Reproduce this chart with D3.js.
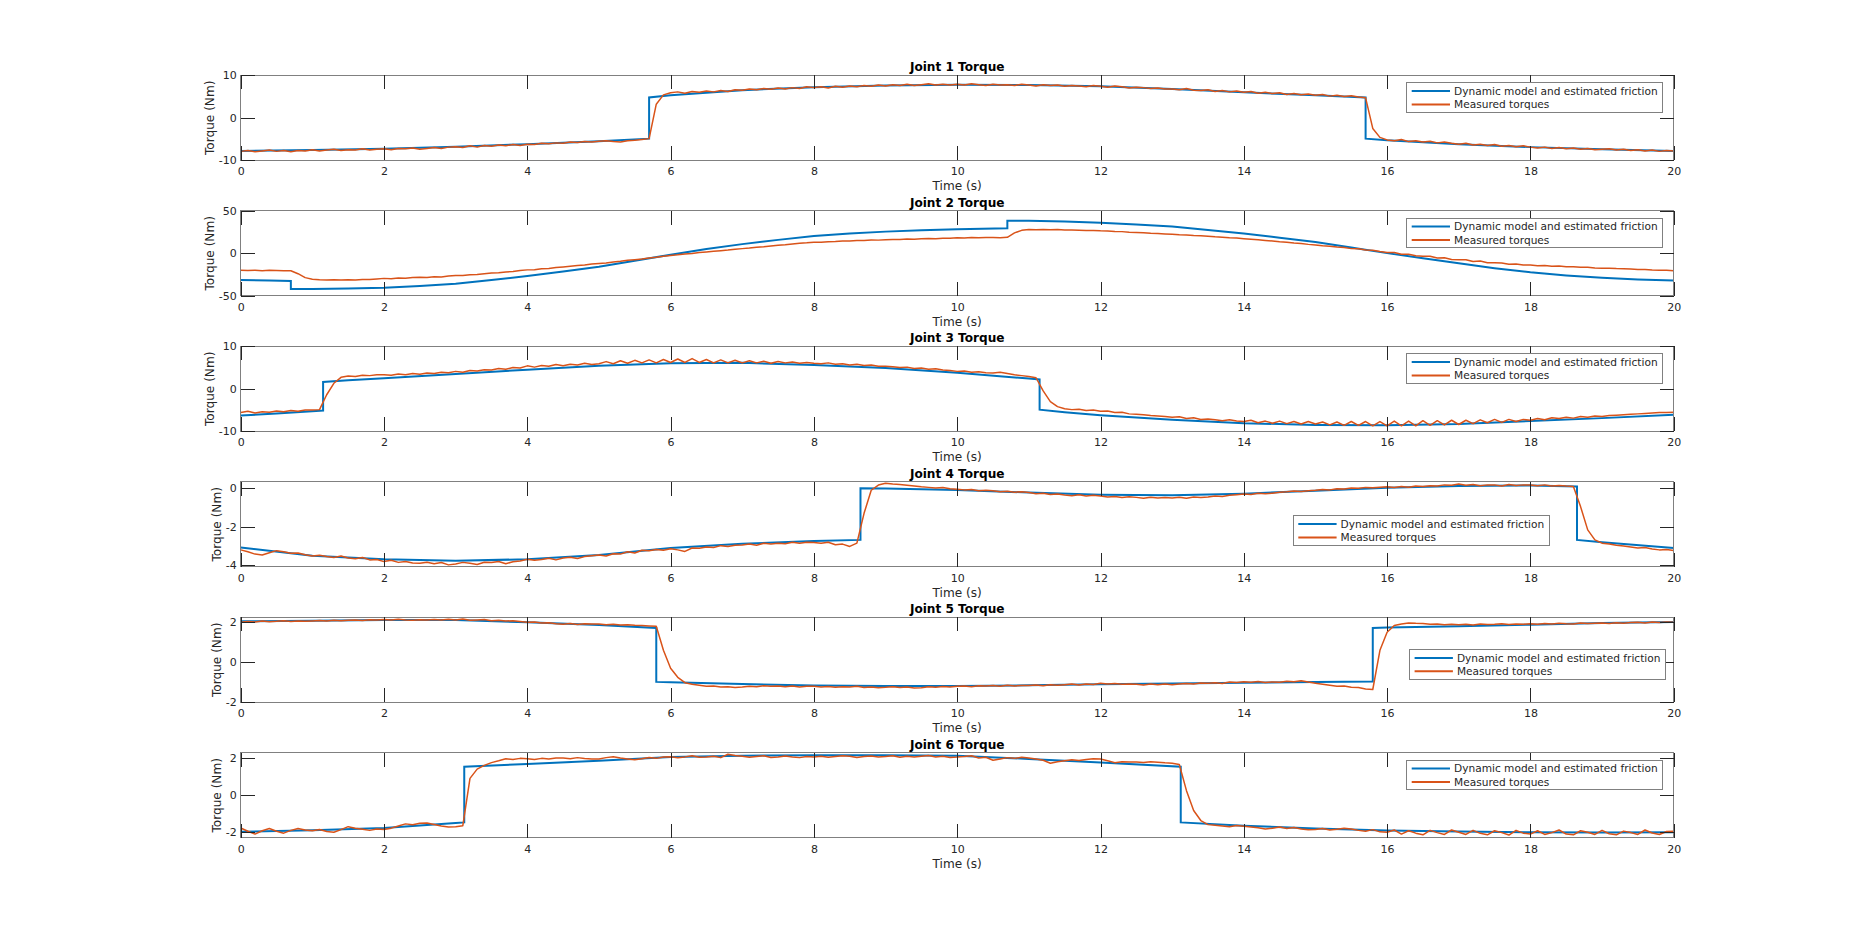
<!DOCTYPE html>
<html>
<head>
<meta charset="utf-8">
<script src="https://cdn.jsdelivr.net/npm/d3@7"></script>
<style>
  body { margin: 0; background: #fff; }
  svg text { font-family: "DejaVu Sans", sans-serif; fill: #262626; }
</style>
</head>
<body>
<div id="chart-area"></div>
<script>
// sampled measurement: one value every 0.1 s from 0 to 20 s
const timeStep = 0.1
const xTicks = [0, 2, 4, 6, 8, 10, 12, 14, 16, 18, 20]
const titles = ['Joint 1 Torque', 'Joint 2 Torque', 'Joint 3 Torque', 'Joint 4 Torque', 'Joint 5 Torque', 'Joint 6 Torque']
const yLimits = [[-10, 10], [-50, 50], [-10, 10], [-4.08, 0.34], [-2, 2.25], [-2.3, 2.28]]
const yTicks = [[-10, 0, 10], [-50, 0, 50], [-10, 0, 10], [-4, -2, 0], [-2, 0, 2], [-2, 0, 2]]
const legendLabels = ['Dynamic model and estimated friction', 'Measured torques']

// dynamic model + friction, [time, torque]
const model1 = [[0,-7.8],[1,-7.6],[2,-7.3],[3,-6.8],[4,-6.2],[5,-5.5],[5.7,-4.9],[5.7,4.8],[6,5.3],[7,6.5],[8,7.2],[9,7.6],[10,7.8],[11,7.7],[12,7.4],[13,6.8],[14,6.0],[15,5.3],[15.7,4.8],[15.7,-4.9],[16,-5.3],[17,-6.2],[18,-6.9],[19,-7.4],[20,-7.8]]
const model2 = [[0,-31.5],[0.4,-32],[0.7,-32.5],[0.7,-42],[1,-42],[1.5,-41.5],[2,-40.5],[2.5,-38.5],[3,-35.7],[3.5,-31.5],[4,-26.7],[4.5,-21.5],[5,-15.9],[5.5,-8.8],[6,-1.6],[6.5,5],[7,10.8],[7.5,15.8],[8,20.3],[8.5,23.3],[9,25.5],[9.5,27.2],[10,28.4],[10.7,29.5],[10.7,38.4],[11,38.4],[11.5,37.5],[12,36],[12.5,33.8],[13,31.4],[13.5,27.5],[14,23.3],[14.5,18.3],[15,13.3],[15.5,6.8],[16,0.2],[16.5,-5.8],[17,-11.8],[17.5,-17.5],[18,-22.3],[18.5,-26],[19,-28.8],[19.5,-30.8],[20,-31.9]]
const model3 = [[0,-6.3],[0.5,-5.8],[1.15,-5.1],[1.15,1.6],[1.5,2.0],[2,2.5],[3,3.5],[4,4.5],[5,5.4],[6,6.0],[7,6.1],[8,5.6],[9,4.9],[10,3.8],[11,2.4],[11.15,2.2],[11.15,-4.9],[11.5,-5.5],[12,-6.2],[13,-7.3],[14,-8.1],[15,-8.5],[16,-8.6],[17,-8.3],[18,-7.6],[19,-6.9],[20,-6.1]]
const model4 = [[0,-3.08],[1,-3.5],[2,-3.69],[3,-3.76],[4,-3.69],[5,-3.47],[6,-3.1],[7,-2.88],[8,-2.74],[8.65,-2.68],[8.65,0],[9,-0.01],[10,-0.09],[11,-0.22],[12,-0.33],[13,-0.36],[14,-0.28],[15,-0.12],[16,0.03],[17,0.12],[18,0.15],[18.65,0.1],[18.65,-2.68],[19,-2.8],[20,-3.1]]
const model5 = [[0,2.05],[1,2.08],[2,2.12],[3,2.12],[4,2.0],[5,1.87],[5.8,1.72],[5.8,-0.98],[6,-1.0],[7,-1.09],[8,-1.16],[9,-1.19],[10,-1.19],[11,-1.15],[12,-1.1],[13,-1.06],[14,-1.02],[15,-0.98],[15.8,-0.96],[15.8,1.72],[16,1.74],[17,1.8],[18,1.88],[19,1.96],[20,2.02]]
const model6 = [[0,-1.98],[1,-1.89],[2,-1.77],[3,-1.5],[3.12,-1.47],[3.12,1.53],[4,1.68],[5,1.85],[6,2.05],[7,2.12],[8,2.15],[9,2.15],[10,2.12],[11,1.95],[12,1.76],[13.12,1.53],[13.12,-1.47],[14,-1.65],[15,-1.8],[16,-1.9],[17,-1.96],[18,-2.0],[19,-2.01],[20,-2.0]]

// measured torques
const measured1 = [
  -7.9,-7.7,-8.0,-7.8,-7.6,-7.9,-7.7,-8.0,-7.7,-7.8,
  -7.5,-7.8,-7.6,-7.4,-7.7,-7.5,-7.6,-7.3,-7.6,-7.4,
  -7.3,-7.5,-7.2,-7.3,-7.1,-7.4,-7.2,-7.0,-7.2,-6.9,
  -6.8,-7.0,-6.6,-6.9,-6.5,-6.7,-6.4,-6.6,-6.3,-6.5,
  -6.2,-6.3,-6.0,-6.1,-5.9,-6.0,-5.7,-5.8,-5.6,-5.7,
  -5.5,-5.4,-5.6,-5.7,-5.4,-5.3,-5.1,-4.9,3.2,5.4,
  5.9,6.1,5.8,6.2,6.0,6.3,6.1,6.4,6.2,6.6,
  6.5,6.8,6.6,6.9,6.7,7.0,6.8,7.1,6.9,7.3,
  7.1,7.3,7.0,7.4,7.2,7.5,7.3,7.6,7.4,7.7,
  7.5,7.8,7.6,7.9,7.6,7.8,8.0,7.7,7.9,7.7,
  7.9,7.7,8.0,7.8,7.6,7.9,7.7,7.8,7.6,7.9,
  7.7,7.5,7.8,7.6,7.7,7.4,7.6,7.5,7.3,7.6,
  7.4,7.2,7.5,7.3,7.0,7.2,7.1,6.9,7.0,6.8,
  6.8,6.6,6.9,6.5,6.4,6.6,6.2,6.4,6.1,6.3,
  6.0,6.2,5.8,6.0,5.7,5.9,5.5,5.7,5.4,5.6,
  5.3,5.5,5.1,5.3,5.0,5.2,4.9,4.7,-2.5,-4.6,
  -5.2,-5.4,-5.1,-5.6,-5.4,-5.7,-5.5,-5.9,-5.7,-6.0,
  -6.2,-6.0,-6.4,-6.2,-6.5,-6.3,-6.7,-6.5,-6.8,-6.6,
  -6.9,-7.1,-6.9,-7.2,-7.0,-7.3,-7.1,-7.4,-7.2,-7.5,
  -7.4,-7.3,-7.6,-7.4,-7.7,-7.5,-7.8,-7.6,-7.9,-7.7,
  -7.8]
const measured2 = [
  -19.8,-20.3,-19.9,-20.4,-20.0,-20.2,-20.6,-20.5,-24.0,-28.6,
  -30.5,-31.2,-31.4,-31.0,-31.5,-31.0,-31.3,-30.7,-30.9,-30.2,
  -29.5,-29.9,-29.2,-29.4,-28.6,-28.2,-28.5,-27.6,-27.8,-26.8,
  -26.0,-26.2,-25.3,-25.0,-24.1,-23.2,-23.0,-21.9,-21.5,-20.3,
  -19.5,-19.4,-18.2,-17.9,-16.7,-16.0,-15.2,-14.4,-13.8,-12.7,
  -12.0,-11.3,-10.1,-9.4,-8.3,-7.5,-6.6,-5.4,-4.6,-3.4,
  -2.5,-1.8,-0.8,-0.1,0.8,1.5,2.3,3.0,3.8,4.8,
  5.5,6.2,7.1,7.6,8.5,9.5,10.1,11.0,11.8,12.3,
  13.0,13.1,13.7,13.9,14.4,14.5,15.0,15.1,15.6,15.5,
  15.9,16.3,16.2,16.8,16.6,17.0,17.3,17.2,17.8,17.6,
  18.2,18.0,18.5,18.2,18.6,18.5,18.3,18.8,24.0,27.0,
  27.9,27.6,28.1,27.7,28.0,27.5,27.4,27.2,26.8,26.9,
  26.4,26.2,25.7,25.5,24.8,24.6,24.2,23.5,23.2,22.8,
  22.5,21.9,21.6,21.0,20.6,20.0,19.4,19.0,18.3,17.9,
  17.2,16.6,16.0,15.2,14.4,13.5,12.9,12.0,11.4,10.5,
  9.8,9.0,8.4,7.4,6.9,5.5,5.3,3.8,3.5,2.0,
  1.0,0.9,-1.2,-1.0,-2.9,-3.5,-3.5,-5.6,-5.2,-7.2,
  -7.7,-7.6,-9.6,-9.0,-11.0,-11.0,-11.4,-12.9,-12.6,-13.9,
  -13.8,-14.6,-14.4,-15.2,-15.0,-15.8,-15.7,-16.4,-16.5,-17.2,
  -17.5,-17.6,-18.0,-18.2,-18.6,-19.0,-19.1,-19.6,-19.8,-20.0,
  -20.4]
const measured3 = [
  -5.6,-5.3,-5.7,-5.4,-5.5,-5.2,-5.4,-5.1,-5.3,-5.0,
  -5.0,-4.9,-1.4,1.3,2.7,3.0,2.9,3.2,3.1,3.3,
  3.3,3.2,3.5,3.3,3.6,3.4,3.7,3.6,3.9,3.8,
  4.1,3.9,4.3,4.2,4.5,4.4,4.8,4.6,5.0,4.9,
  5.4,5.1,5.5,5.3,5.7,5.4,5.8,5.6,6.0,5.7,
  5.9,6.4,5.9,6.6,6.0,6.7,6.1,6.8,6.1,6.9,
  6.2,7.0,6.2,7.1,6.2,6.9,6.1,6.8,6.1,6.7,
  6.1,6.6,6.1,6.5,6.0,6.4,6.1,6.3,6.0,6.2,
  6.0,5.9,6.1,5.8,5.9,5.6,5.8,5.5,5.6,5.3,
  5.3,5.2,5.0,5.1,4.8,4.9,4.6,4.7,4.4,4.3,
  4.1,4.2,3.9,4.0,3.8,3.7,3.9,3.6,3.3,3.1,
  2.9,2.6,-0.5,-3.0,-4.2,-4.7,-4.9,-4.8,-5.1,-5.0,
  -5.3,-5.2,-5.6,-5.5,-5.9,-6.0,-6.1,-6.3,-6.4,-6.5,
  -6.7,-6.6,-7.0,-6.8,-7.2,-7.1,-7.3,-7.5,-7.3,-7.6,
  -7.7,-7.4,-8.0,-7.6,-8.1,-7.6,-8.2,-7.7,-8.3,-7.7,
  -8.3,-7.8,-8.5,-7.8,-8.6,-7.7,-8.6,-7.7,-8.7,-7.7,
  -8.7,-7.6,-8.7,-7.6,-8.7,-7.5,-8.6,-7.5,-8.5,-7.4,
  -8.4,-7.4,-8.2,-7.3,-8.0,-7.2,-7.9,-7.2,-7.7,-7.2,
  -7.4,-7.0,-7.3,-6.8,-7.0,-6.7,-6.9,-6.5,-6.7,-6.4,
  -6.5,-6.3,-6.2,-6.1,-6.0,-5.9,-5.8,-5.7,-5.6,-5.6,
  -5.5]
const measured4 = [
  -3.20,-3.30,-3.42,-3.47,-3.35,-3.24,-3.30,-3.38,-3.36,-3.45,
  -3.52,-3.48,-3.55,-3.60,-3.52,-3.62,-3.66,-3.60,-3.72,-3.70,
  -3.81,-3.74,-3.85,-3.80,-3.88,-3.90,-3.84,-3.92,-3.86,-3.98,
  -3.93,-3.85,-3.90,-3.96,-3.84,-3.86,-3.80,-3.92,-3.82,-3.78,
  -3.69,-3.74,-3.70,-3.64,-3.72,-3.62,-3.58,-3.65,-3.55,-3.50,
  -3.47,-3.52,-3.40,-3.42,-3.30,-3.36,-3.22,-3.25,-3.18,-3.22,
  -3.14,-3.20,-3.28,-3.10,-3.12,-3.05,-3.08,-2.98,-3.02,-2.96,
  -2.95,-2.90,-2.96,-2.86,-2.90,-2.85,-2.88,-2.80,-2.86,-2.80,
  -2.82,-2.86,-2.80,-2.93,-2.90,-3.02,-2.85,-1.30,-0.10,0.17,
  0.26,0.22,0.20,0.16,0.12,0.08,0.05,0.02,0.04,-0.02,
  -0.05,-0.08,-0.06,-0.12,-0.10,-0.12,-0.18,-0.15,-0.20,-0.18,
  -0.22,-0.28,-0.25,-0.32,-0.30,-0.35,-0.38,-0.33,-0.40,-0.36,
  -0.40,-0.45,-0.42,-0.48,-0.44,-0.47,-0.52,-0.46,-0.50,-0.48,
  -0.50,-0.46,-0.52,-0.45,-0.48,-0.45,-0.40,-0.42,-0.36,-0.33,
  -0.30,-0.32,-0.26,-0.28,-0.25,-0.20,-0.18,-0.14,-0.16,-0.12,
  -0.10,-0.06,-0.08,-0.02,-0.04,0.02,0.00,0.05,0.03,0.06,
  0.08,0.04,0.10,0.06,0.12,0.10,0.14,0.12,0.18,0.16,
  0.22,0.16,0.20,0.14,0.18,0.18,0.12,0.20,0.15,0.18,
  0.17,0.14,0.18,0.12,0.15,0.12,0.10,-0.95,-2.16,-2.68,
  -2.85,-2.90,-2.96,-3.00,-3.05,-3.10,-3.08,-3.15,-3.20,-3.18,
  -3.23]
const measured5 = [
  2.00,2.04,2.02,2.06,2.03,2.05,2.08,2.04,2.07,2.05,
  2.07,2.09,2.06,2.10,2.08,2.10,2.12,2.09,2.13,2.11,
  2.14,2.11,2.15,2.12,2.10,2.13,2.11,2.14,2.12,2.15,
  2.12,2.16,2.10,2.12,2.14,2.08,2.10,2.06,2.08,2.04,
  2.00,2.02,1.96,1.98,1.93,1.90,1.94,1.89,1.93,1.91,
  1.92,1.88,1.90,1.86,1.88,1.85,1.84,1.82,1.80,0.60,
  -0.30,-0.75,-1.02,-1.10,-1.15,-1.20,-1.18,-1.24,-1.22,-1.26,
  -1.24,-1.20,-1.22,-1.17,-1.20,-1.18,-1.22,-1.19,-1.23,-1.20,
  -1.20,-1.24,-1.21,-1.25,-1.22,-1.24,-1.20,-1.26,-1.23,-1.27,
  -1.25,-1.22,-1.26,-1.23,-1.28,-1.27,-1.22,-1.25,-1.21,-1.24,
  -1.20,-1.18,-1.22,-1.17,-1.19,-1.16,-1.20,-1.15,-1.18,-1.16,
  -1.16,-1.13,-1.17,-1.12,-1.15,-1.12,-1.09,-1.13,-1.08,-1.11,
  -1.05,-1.09,-1.06,-1.10,-1.08,-1.10,-1.13,-1.09,-1.12,-1.08,
  -1.12,-1.08,-1.06,-1.09,-1.04,-1.05,-1.02,-1.06,-0.99,-1.01,
  -0.97,-1.00,-0.96,-1.01,-0.98,-1.00,-0.95,-0.97,-0.92,-0.99,
  -1.05,-1.10,-1.15,-1.20,-1.18,-1.25,-1.26,-1.33,-1.36,0.60,
  1.50,1.84,1.92,1.97,1.95,1.94,1.90,1.92,1.88,1.90,
  1.88,1.90,1.87,1.91,1.89,1.90,1.93,1.89,1.92,1.90,
  1.93,1.90,1.94,1.91,1.95,1.93,1.92,1.96,1.94,1.95,
  1.96,1.94,1.98,1.95,1.99,2.00,1.97,2.01,1.99,2.02,
  2.00]
const measured6 = [
  -1.77,-1.95,-2.10,-1.92,-1.80,-1.95,-2.05,-1.90,-1.80,-1.88,
  -1.92,-1.85,-1.96,-2.00,-1.86,-1.70,-1.78,-1.84,-1.90,-1.82,
  -1.85,-1.78,-1.66,-1.55,-1.60,-1.52,-1.50,-1.58,-1.66,-1.72,
  -1.70,-1.65,0.90,1.40,1.60,1.75,1.85,1.96,1.92,1.98,
  1.96,1.92,1.98,1.94,2.00,2.00,1.96,2.02,1.97,1.94,
  1.95,2.02,2.07,2.00,1.95,1.90,1.96,2.03,1.98,2.05,
  2.07,2.01,2.06,2.12,2.04,2.05,2.10,2.02,2.20,2.14,
  2.10,2.04,2.08,2.12,2.03,2.05,2.11,2.06,2.02,2.08,
  2.05,2.10,2.04,2.08,2.12,2.10,2.03,2.08,2.11,2.05,
  2.08,2.12,2.04,2.10,2.06,2.10,2.14,2.05,2.09,2.03,
  2.05,2.08,2.12,2.00,2.04,1.88,1.95,2.02,1.98,2.04,
  2.00,1.95,1.88,1.72,1.80,1.85,1.90,1.86,1.92,1.96,
  1.95,1.85,1.75,1.80,1.78,1.78,1.76,1.80,1.77,1.74,
  1.72,1.65,0.24,-0.83,-1.37,-1.59,-1.62,-1.66,-1.70,-1.64,
  -1.68,-1.72,-1.76,-1.83,-1.78,-1.72,-1.80,-1.75,-1.82,-1.86,
  -1.85,-1.80,-1.88,-1.84,-1.78,-1.82,-1.90,-1.95,-1.86,-1.98,
  -2.00,-1.88,-2.10,-1.92,-2.05,-2.14,-1.90,-2.02,-2.12,-1.88,
  -2.00,-2.12,-1.90,-2.06,-2.14,-1.92,-2.02,-2.15,-1.90,-2.05,
  -2.10,-1.92,-2.12,-2.02,-1.88,-2.10,-2.14,-1.92,-2.00,-2.12,
  -1.90,-2.08,-2.14,-1.94,-2.02,-2.12,-1.88,-2.04,-2.12,-1.96,
  -1.95]

const models = [model1, model2, model3, model4, model5, model6]
const measured = [measured1, measured2, measured3, measured4, measured5, measured6]

// layout (pixels)
const plotLeft = 240.7, plotRight = 1673.7, firstTop = 75.3
const rowStep = 135.5, plotH = 85, tickLen = 14
// legend box: [left x, offset below the axes top]
const legendSpots = [[1406.7, 7.5], [1406.7, 7.5], [1406.7, 7.5], [1293.3, 34], [1409.6, 32.3], [1406.7, 7.5]]
const legendW = 256, legendH = 29.6
const blue = '#0072BD', red = '#D95319'

let svg = d3.select('#chart-area').append('svg').attr('width', 1850).attr('height', 951)

let x = d3.scaleLinear().domain([0, 20]).range([plotLeft, plotRight])
let fmt = (d) => String(d)
let midX = (plotLeft + plotRight) / 2

let styleAxis = (g) => {
  g.attr('font-size', 11).attr('font-family', '"DejaVu Sans", sans-serif').attr('color', '#262626')
  g.select('.domain').remove()
  g.selectAll('.tick line').attr('shape-rendering', 'crispEdges')
}

titles.forEach((title, k) => {
  let top = firstTop + k * rowStep
  let bottom = top + plotH
  let y = d3.scaleLinear().domain(yLimits[k]).range([bottom, top])
  let g = svg.append('g')

  g.append('clipPath').attr('id', 'clip' + k).append('rect')
    .attr('x', plotLeft).attr('y', top)
    .attr('width', plotRight - plotLeft).attr('height', plotH)

  let lines = g.append('g').attr('clip-path', `url(#clip${k})`)
  lines.append('path').datum(models[k])
    .attr('fill', 'none').attr('stroke', blue).attr('stroke-width', 2)
    .attr('d', d3.line().x(d => x(d[0])).y(d => y(d[1])))
  lines.append('path').datum(measured[k])
    .attr('fill', 'none').attr('stroke', red).attr('stroke-width', 1.5)
    .attr('stroke-linejoin', 'round')
    .attr('d', d3.line().x((d, i) => x(i * timeStep)).y(d => y(d)))

  // box
  g.append('rect')
    .attr('x', plotLeft).attr('y', top)
    .attr('width', plotRight - plotLeft).attr('height', plotH)
    .attr('fill', 'none').attr('stroke', '#808080').attr('shape-rendering', 'crispEdges')

  // ticks on all four sides, pointing inwards
  g.append('g').attr('transform', `translate(0,${bottom})`)
    .call(d3.axisBottom(x).tickValues(xTicks).tickFormat(fmt).tickSizeInner(-tickLen).tickSizeOuter(0).tickPadding(7))
    .call(styleAxis)
  g.append('g').attr('transform', `translate(0,${top})`)
    .call(d3.axisTop(x).tickValues(xTicks).tickFormat('').tickSizeInner(-tickLen).tickSizeOuter(0))
    .call(styleAxis)
  let leftAxis = g.append('g').attr('transform', `translate(${plotLeft},0)`)
    .call(d3.axisLeft(y).tickValues(yTicks[k]).tickFormat(fmt).tickSizeInner(-tickLen).tickSizeOuter(0).tickPadding(4))
    .call(styleAxis)
  g.append('g').attr('transform', `translate(${plotRight},0)`)
    .call(d3.axisRight(y).tickValues(yTicks[k]).tickFormat('').tickSizeInner(-tickLen).tickSizeOuter(0))
    .call(styleAxis)

  // labels
  let labelsLeft = d3.min(leftAxis.selectAll('text').nodes(), n => n.getBBox().x + plotLeft)
  g.append('text')
    .attr('transform', `translate(${labelsLeft - 4.3},${(top + bottom) / 2}) rotate(-90)`)
    .attr('text-anchor', 'middle').attr('font-size', 12.1)
    .text('Torque (Nm)')
  g.append('text')
    .attr('x', midX).attr('y', bottom + 30)
    .attr('text-anchor', 'middle').attr('font-size', 12.1)
    .text('Time (s)')
  g.append('text')
    .attr('x', midX).attr('y', top - 4.2)
    .attr('text-anchor', 'middle').attr('font-size', 12.1).attr('font-weight', 'bold')
    .style('fill', '#000')
    .text(title)

  // legend
  let lx = legendSpots[k][0], ly = top + legendSpots[k][1]
  let lg = g.append('g').attr('transform', `translate(${lx},${ly})`)
  lg.append('rect').attr('width', legendW).attr('height', legendH)
    .attr('fill', '#fff').attr('stroke', '#808080').attr('shape-rendering', 'crispEdges')
  legendLabels.forEach((label, i) => {
    let cy = 8.3 + i * 13.3
    lg.append('line').attr('x1', 5).attr('x2', 43.3).attr('y1', cy).attr('y2', cy)
      .attr('stroke', i === 0 ? blue : red).attr('stroke-width', 2)
    lg.append('text').attr('x', 47.3).attr('y', cy + 3.8)
      .attr('font-size', 10.6)
      .text(label)
  })
})
</script>
</body>
</html>
